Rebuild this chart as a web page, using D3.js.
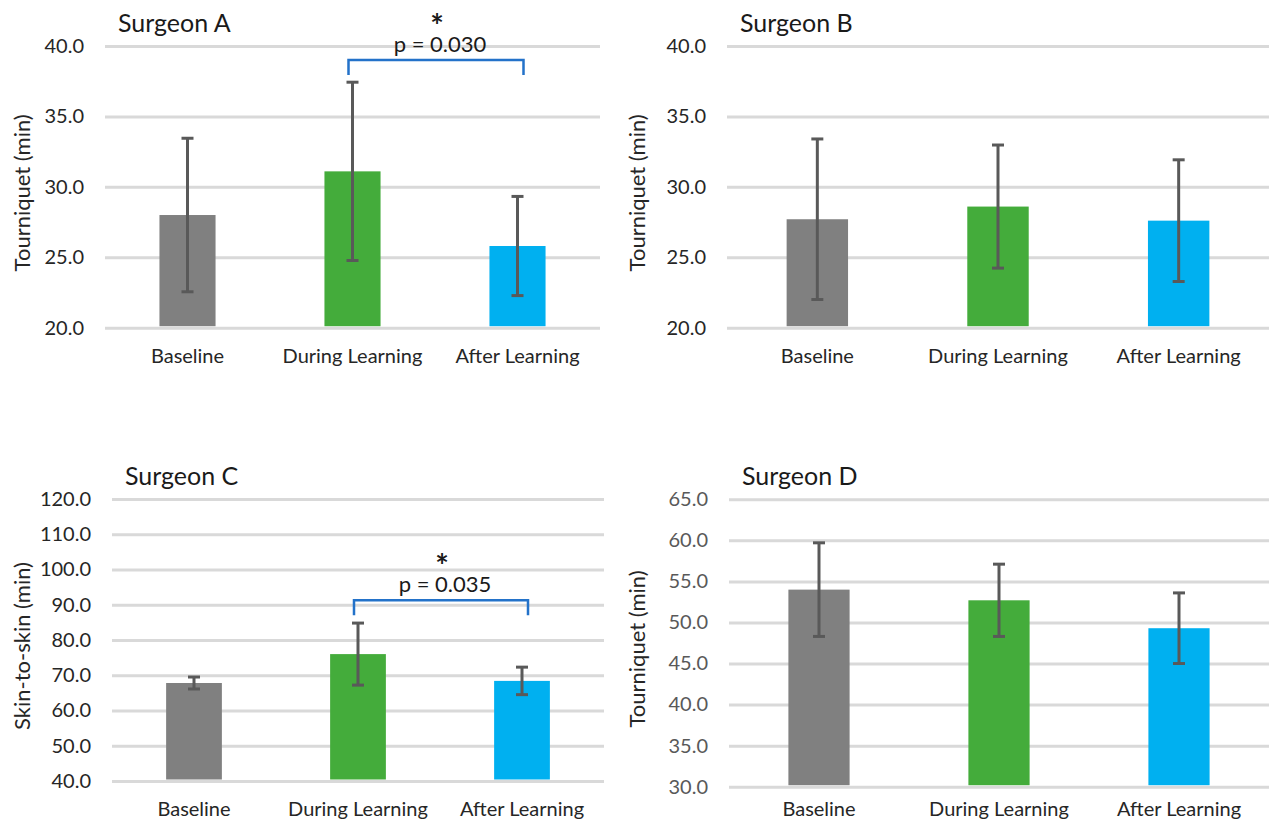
<!DOCTYPE html>
<html>
<head>
<meta charset="utf-8">
<script src="https://cdn.jsdelivr.net/npm/d3@7"></script>
<style>
  body { margin: 0; background: #fff; }
  svg { font-family: Lato, "Noto Sans", sans-serif; }
</style>
</head>
<body>
<svg id="chart" width="1270" height="823"></svg>
<script>
// categories shared by all four panels
var categories = ["Baseline", "During Learning", "After Learning"];

// Surgeon A - tourniquet time
var meansA = [28.0, 31.1, 25.8];
var errorsA = [5.45, 6.33, 3.52];
var ticksA = [20, 25, 30, 35, 40];

// Surgeon B - tourniquet time
var meansB = [27.7, 28.6, 27.6];
var errorsB = [5.7, 4.37, 4.32];
var ticksB = [20, 25, 30, 35, 40];

// Surgeon C - skin-to-skin time
var meansC = [67.8, 76.0, 68.4];
var errorsC = [1.7, 8.8, 3.9];
var ticksC = [40, 50, 60, 70, 80, 90, 100, 110, 120];

// Surgeon D - tourniquet time
var meansD = [54.0, 52.7, 49.3];
var errorsD = [5.7, 4.4, 4.3];
var ticksD = [30, 35, 40, 45, 50, 55, 60, 65];

var barColors = ["#808080", "#44ac3b", "#00b0f0"];

// layout of the panels (pixel boxes of the plot areas)
var panels = [
  { title: "Surgeon A", yTitle: "Tourniquet (min)", means: meansA, errors: errorsA, ticks: ticksA,
    x0: 105, x1: 600, y0: 46, y1: 327.7, labelY: 363, tickColor: "#262626",
    sig: { from: 1, to: 2, level: 39.0, p: "p = 0.030" } },
  { title: "Surgeon B", yTitle: "Tourniquet (min)", means: meansB, errors: errorsB, ticks: ticksB,
    x0: 727, x1: 1269, y0: 46, y1: 327.7, labelY: 363, tickColor: "#262626" },
  { title: "Surgeon C", yTitle: "Skin-to-skin (min)", means: meansC, errors: errorsC, ticks: ticksC,
    x0: 112, x1: 604, y0: 499, y1: 781, labelY: 816, tickColor: "#262626",
    sig: { from: 1, to: 2, level: 91.3, p: "p = 0.035" } },
  { title: "Surgeon D", yTitle: "Tourniquet (min)", means: meansD, errors: errorsD, ticks: ticksD,
    x0: 729, x1: 1269, y0: 499.3, y1: 786.7, labelY: 816, tickColor: "#595959" }
];

var svg = d3.select("#chart");

panels.forEach(drawPanel);

function drawPanel(p) {
  var g = svg.append("g");
  var x = d3.scaleBand().domain(categories).range([p.x0, p.x1])
    .paddingInner(0.66).paddingOuter(0.33);
  var y = d3.scaleLinear().domain(d3.extent(p.ticks)).range([p.y1, p.y0]);

  // y axis with gridlines
  var yAxis = g.append("g").attr("transform", "translate(" + p.x0 + ",0)")
    .call(d3.axisLeft(y).tickValues(p.ticks).tickFormat(d3.format(".1f"))
      .tickSize(-(p.x1 - p.x0)).tickPadding(21));
  yAxis.select(".domain").remove();
  yAxis.selectAll("line").attr("stroke", "#d9d9d9").attr("stroke-width", 3);
  yAxis.selectAll("text").attr("fill", p.tickColor).style("font-size", "20px")
    .style("font-family", "Lato, 'Noto Sans', sans-serif");

  // x axis labels
  var xAxis = g.append("g").attr("transform", "translate(0," + p.y1 + ")")
    .call(d3.axisBottom(x).tickSize(0).tickPadding(p.labelY - p.y1 - 14.2));
  xAxis.select(".domain").remove();
  xAxis.selectAll("text").attr("fill", "#262626").style("font-size", "20px")
    .style("font-family", "Lato, 'Noto Sans', sans-serif");

  // bars
  g.selectAll("rect.bar").data(p.means).enter().append("rect")
    .attr("class", "bar")
    .attr("x", function(d, i) { return x(categories[i]); })
    .attr("width", x.bandwidth())
    .attr("y", function(d) { return y(d); })
    .attr("height", function(d) { return y.range()[0] - 1.5 - y(d); })
    .attr("fill", function(d, i) { return barColors[i]; });

  // error bars
  var eb = g.selectAll("g.err").data(p.means).enter().append("g").attr("class", "err")
    .attr("stroke", "#595959").attr("stroke-width", 3);
  var cx = function(i) { return x(categories[i]) + x.bandwidth() / 2; };
  eb.append("line")
    .attr("x1", function(d, i) { return cx(i); }).attr("x2", function(d, i) { return cx(i); })
    .attr("y1", function(d, i) { return y(d + p.errors[i]); })
    .attr("y2", function(d, i) { return y(d - p.errors[i]); });
  eb.append("line")
    .attr("x1", function(d, i) { return cx(i) - 6; }).attr("x2", function(d, i) { return cx(i) + 6; })
    .attr("y1", function(d, i) { return y(d + p.errors[i]); })
    .attr("y2", function(d, i) { return y(d + p.errors[i]); });
  eb.append("line")
    .attr("x1", function(d, i) { return cx(i) - 6; }).attr("x2", function(d, i) { return cx(i) + 6; })
    .attr("y1", function(d, i) { return y(d - p.errors[i]); })
    .attr("y2", function(d, i) { return y(d - p.errors[i]); });

  // panel title
  g.append("text").attr("x", p.x0 + 13).attr("y", p.y0 - 14)
    .attr("fill", "#1a1a1a").style("font-size", "25px").text(p.title);

  // y axis title
  var ym = (p.y0 + p.y1) / 2 + 6;
  g.append("text").attr("transform", "translate(" + (p.x0 < 600 ? 30 : 645) + "," + ym + ") rotate(-90)")
    .attr("text-anchor", "middle").attr("fill", "#262626").style("font-size", "22px")
    .text(p.yTitle);

  // significance bracket with a two-line label (star over p-value)
  if (p.sig) {
    var bx0 = cx(p.sig.from) - 4, bx1 = cx(p.sig.to) + 6, by = y(p.sig.level);
    g.append("path")
      .attr("d", "M" + bx0 + "," + (by + 15) + "V" + by + "H" + bx1 + "V" + (by + 15))
      .attr("fill", "none").attr("stroke", "#2372c9").attr("stroke-width", 2.5);
    var mid = (bx0 + bx1) / 2 + 4;
    var lbl = g.append("text").attr("text-anchor", "middle").attr("fill", "#1a1a1a");
    lbl.append("tspan").attr("x", mid - 3).attr("y", by - 22)
      .style("font-size", "32px").style("font-weight", "bold").text("*");
    lbl.append("tspan").attr("x", mid).attr("y", by - 8)
      .style("font-size", "22px").text(p.sig.p);
  }
}
</script>
</body>
</html>
